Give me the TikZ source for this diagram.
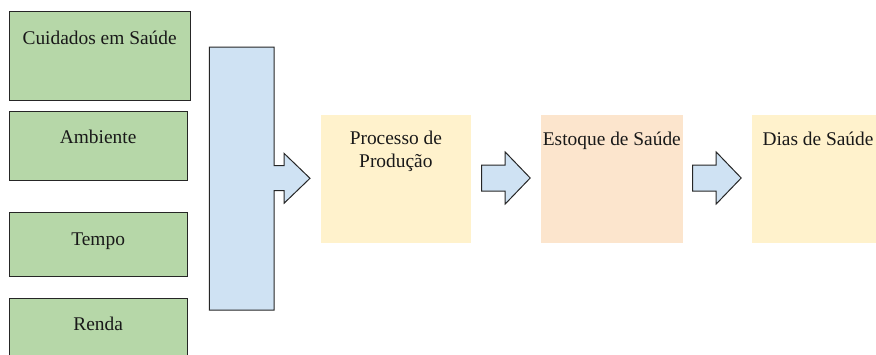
\documentclass[tikz,border=0pt]{standalone}
\usepackage{fontspec}
\setmainfont{Liberation Serif}
\definecolor{gfill}{HTML}{B6D7A8}
\definecolor{bfill}{HTML}{CFE2F3}
\definecolor{yfill}{HTML}{FFF2CC}
\definecolor{pfill}{HTML}{FCE5CD}
\definecolor{edge}{HTML}{262626}
\tikzset{
  gbox/.style={draw=edge, line width=1pt, fill=gfill, anchor=north west, inner sep=0pt, outer sep=0pt},
  cbox/.style={draw=none, anchor=north west, inner sep=0pt, outer sep=0pt},
  lbl/.style={font=\fontsize{19.4}{22.3}\selectfont, inner sep=0pt, anchor=base, align=center, text=black!90},
  blk/.style={draw=edge, line width=1pt, fill=bfill, line join=miter},
  pics/barrow/.style={code={
    \draw[blk] (0,-13) -- (23.5,-13) -- (23.5,-26) -- (48.5,0) -- (23.5,26) -- (23.5,13) -- (0,13) -- cycle;
  }}
}
\begin{document}
\begin{tikzpicture}[x=1pt,y=-1pt]
\useasboundingbox (0,0) rectangle (876,354);
% left boxes
\node[gbox, minimum width=180.7pt, minimum height=88.3pt] (c1) at (9.3,11.7) {};
\node[gbox, minimum width=177.7pt, minimum height=69pt] (c2) at (9.3,111) {};
\node[gbox, minimum width=177.7pt, minimum height=64pt] (c3) at (9.3,212) {};
\node[gbox, minimum width=177.7pt, minimum height=66pt] (c4) at (9.3,298) {};
\node[lbl] (t1) at ([yshift=-33pt]c1.north) {Cuidados em Saúde};
\node[lbl] (t2) at ([yshift=-32.5pt]c2.north) {Ambiente};
\node[lbl] (t3) at ([yshift=-33pt]c3.north) {Tempo};
\node[lbl] (t4) at ([yshift=-32pt]c4.north) {Renda};
% big collector arrow
\draw[blk] (209.3,47) -- (274,47) -- (274,165.5) -- (284,165.5) -- (284,153.3) -- (310,178.3)
  -- (284,203.3) -- (284,190.7) -- (274,190.7) -- (274,310) -- (209.3,310) -- cycle;
% right boxes
\node[cbox, fill=yfill, minimum width=150.3pt, minimum height=127.7pt] (p) at (320.7,115) {};
\node[cbox, fill=pfill, minimum width=141.7pt, minimum height=127.7pt] (e) at (541,115) {};
\node[cbox, fill=yfill, minimum width=132pt, minimum height=127.7pt] (d) at (752,115) {};
\node[lbl] (tp) at ([yshift=-52pt]p.north) {Processo de\\Produção};
\node[lbl] (te) at ([yshift=-30pt]e.north) {Estoque de Saúde};
\node[lbl] (td) at ([yshift=-30pt]d.north) {Dias de Saúde};
% block arrows between
\pic at (481.7,178) {barrow};
\pic at (692.7,178) {barrow};
\end{tikzpicture}
\end{document}
